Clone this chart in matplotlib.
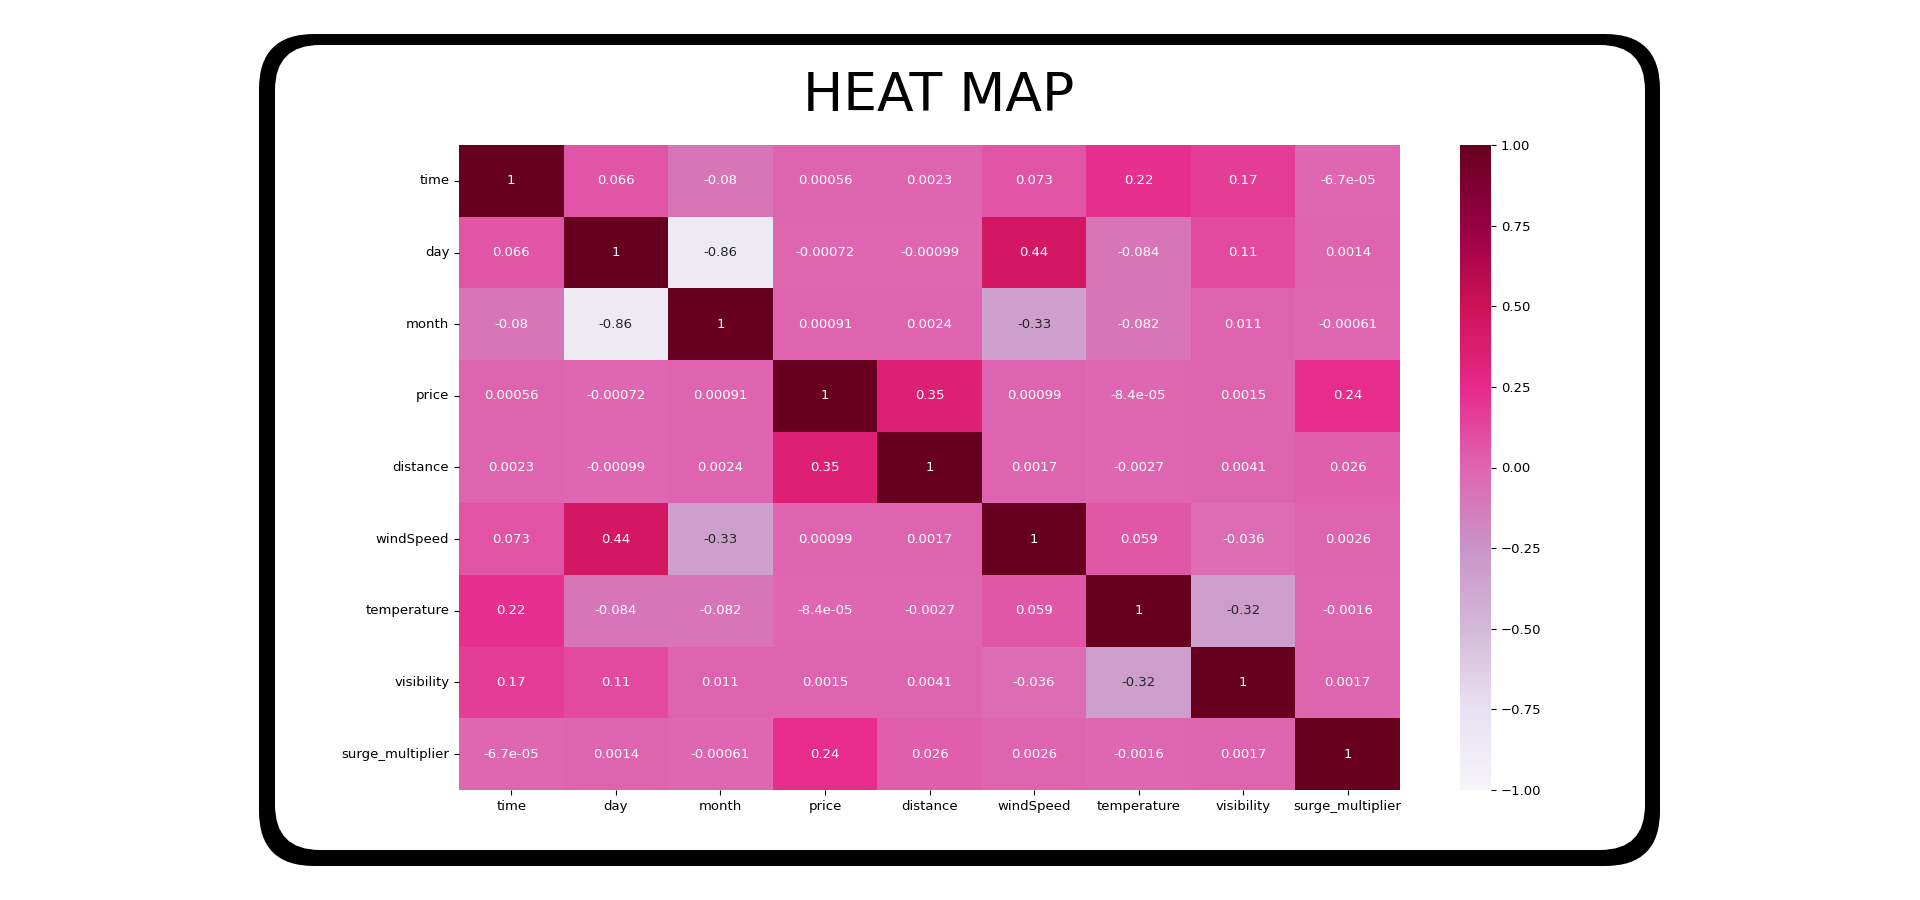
#------------------------------Librerias----------------------------------------
import numpy as np
import pandas as pd
import seaborn as sns
import matplotlib.pyplot as plt
from matplotlib.patches import FancyBboxPatch
#------------------------------------------------------------------------------

#------------------------------Datos-------------------------------------------
labels = ['time', 'day', 'month', 'price', 'distance', 'windSpeed',
          'temperature', 'visibility', 'surge_multiplier']

r_time = [1, 0.066, -0.08, 0.00056, 0.0023, 0.073, 0.22, 0.17, -6.7e-05]
r_day = [0.066, 1, -0.86, -0.00072, -0.00099, 0.44, -0.084, 0.11, 0.0014]
r_month = [-0.08, -0.86, 1, 0.00091, 0.0024, -0.33, -0.082, 0.011, -0.00061]
r_price = [0.00056, -0.00072, 0.00091, 1, 0.35, 0.00099, -8.4e-05, 0.0015, 0.24]
r_distance = [0.0023, -0.00099, 0.0024, 0.35, 1, 0.0017, -0.0027, 0.0041, 0.026]
r_wind = [0.073, 0.44, -0.33, 0.00099, 0.0017, 1, 0.059, -0.036, 0.0026]
r_temp = [0.22, -0.084, -0.082, -8.4e-05, -0.0027, 0.059, 1, -0.32, -0.0016]
r_vis = [0.17, 0.11, 0.011, 0.0015, 0.0041, -0.036, -0.32, 1, 0.0017]
r_surge = [-6.7e-05, 0.0014, -0.00061, 0.24, 0.026, 0.0026, -0.0016, 0.0017, 1]

corr = pd.DataFrame([r_time, r_day, r_month, r_price, r_distance,
                     r_wind, r_temp, r_vis, r_surge],
                    index=labels, columns=labels)
#------------------------------------------------------------------------------

#------------------------------Figura------------------------------------------
W, H = 1920, 900
fig = plt.figure(figsize=(W/100, H/100), dpi=100)

# marco redondeado (en pixeles)
bg = fig.add_axes([0, 0, 1, 1], zorder=-1)
bg.set_xlim(0, W)
bg.set_ylim(0, H)
bg.axis('off')
bg.add_patch(FancyBboxPatch((259, 34), 1401, 832,
                            boxstyle='round,pad=0,rounding_size=55',
                            fc='black', ec='none'))
bg.add_patch(FancyBboxPatch((275, 50), 1370, 805,
                            boxstyle='round,pad=0,rounding_size=45',
                            fc='white', ec='none'))

fig.text(939/W, 1-111/H, 'HEAT MAP', ha='center', va='baseline',
         fontsize=38.5, color='black', family='DejaVu Sans')

ax = fig.add_axes([459/W, 1-790/H, (1400-459)/W, (790-145)/H])
cax = fig.add_axes([1460/W, 1-790/H, 31/W, (790-145)/H])

sns.heatmap(corr, ax=ax, cbar_ax=cax, cmap='PuRd', vmin=-1, vmax=1,
            annot=True, annot_kws={'fontsize': 9.5})
cax.tick_params(labelsize=9.5)
cax.set_yticks([-1, -0.75, -0.5, -0.25, 0, 0.25, 0.5, 0.75, 1])
cax.set_yticklabels(['−1.00', '−0.75', '−0.50', '−0.25', '0.00',
                     '0.25', '0.50', '0.75', '1.00'])
ax.tick_params(labelsize=9.5)
plt.setp(ax.get_xticklabels(), rotation=0)
plt.setp(ax.get_yticklabels(), rotation=0)

fig.savefig('out.png', dpi=100)
#------------------------------------------------------------------------------
